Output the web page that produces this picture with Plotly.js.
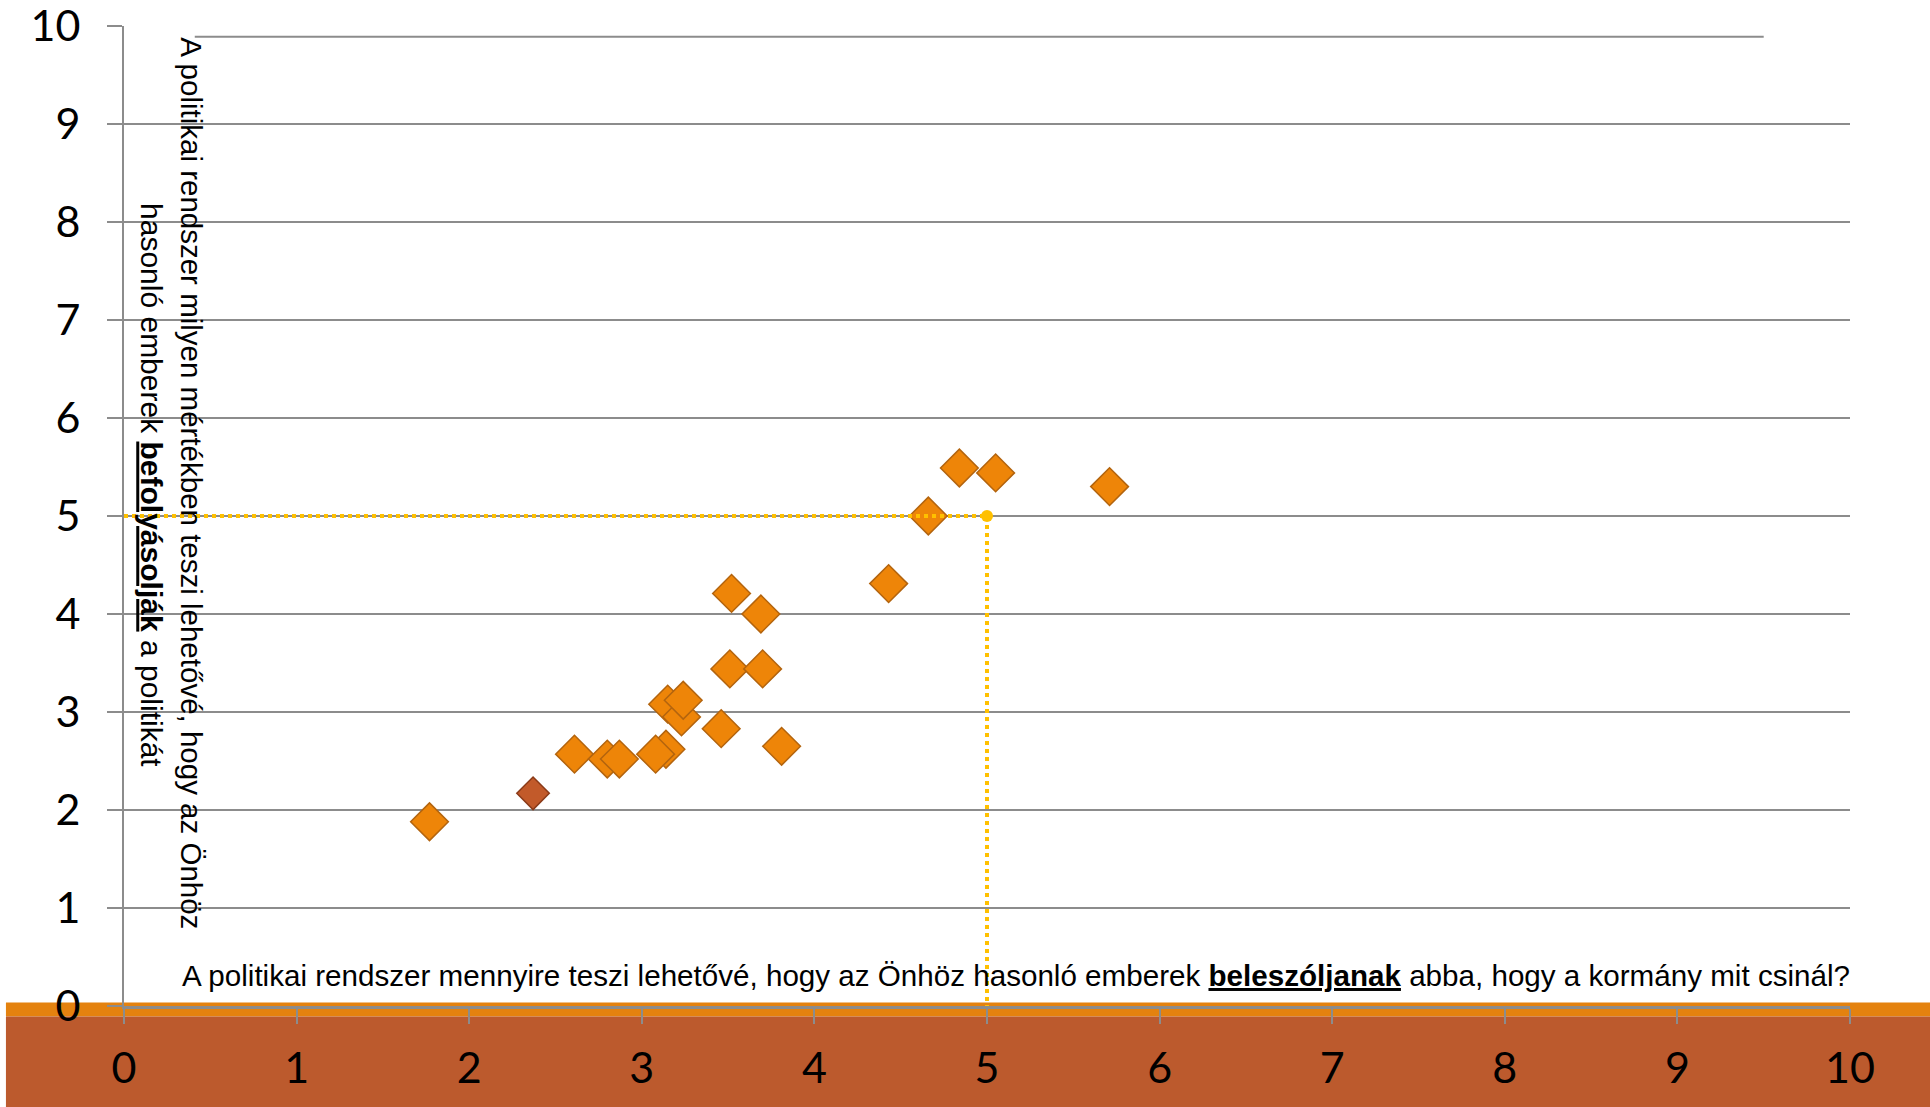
<!DOCTYPE html>
<html>
<head>
<meta charset="utf-8">
<script src="https://cdn.plot.ly/plotly-3.0.1.min.js"></script>
<style>
html,body{margin:0;padding:0;background:#fff;}
#chart{width:1930px;height:1107px;}
</style>
</head>
<body>
<div id="chart"></div>
<script>
// ---- data ----
const countryX = [1.77, 2.61, 2.80, 2.87, 3.14, 3.08, 3.15, 3.23, 3.24, 3.46, 3.81, 3.51, 3.70, 3.52, 3.69, 4.43, 4.66, 4.84, 5.05, 5.71];
const countryY = [1.88, 2.57, 2.52, 2.52, 2.62, 2.57, 3.08, 2.95, 3.12, 2.83, 2.65, 3.44, 3.44, 4.21, 4.00, 4.31, 5.00, 5.49, 5.44, 5.30];
const highlightX = [2.37];
const highlightY = [2.17];
const refLineX = [0, 5, 5];
const refLineY = [5, 5, 0];
const refPointX = [5];
const refPointY = [5];
const tickVals = [0, 1, 2, 3, 4, 5, 6, 7, 8, 9, 10];
const tickText = ['0', '1', '2', '3', '4', '5', '6', '7', '8', '9', '10'];
const xTitle = 'A politikai rendszer mennyire teszi lehetővé, hogy az Önhöz hasonló emberek <b><u>beleszóljanak</u></b> abba, hogy a kormány mit csinál?';
const yTitleLine1 = 'A politikai rendszer milyen mértékben teszi lehetővé, hogy az Önhöz';
const yTitleLine2 = 'hasonló emberek <b><u>befolyásolják</u></b> a politikát';

const gridGray = '#8c8c8c';
const titleFont = '"Liberation Sans", Arial, sans-serif';

const traces = [
  {
    x: countryX, y: countryY, type: 'scatter', mode: 'markers',
    marker: {symbol: 'diamond', size: 29, color: '#ee8508', line: {color: '#b3640e', width: 1.5}},
    cliponaxis: false, hoverinfo: 'x+y'
  },
  {
    x: highlightX, y: highlightY, type: 'scatter', mode: 'markers',
    marker: {symbol: 'diamond', size: 25, color: '#c25a2a', line: {color: '#8a3a18', width: 1.5}},
    cliponaxis: false, hoverinfo: 'x+y'
  },
  {
    x: refLineX, y: refLineY, type: 'scatter', mode: 'lines',
    line: {color: '#ffc000', width: 4, dash: 'dot'},
    cliponaxis: false, hoverinfo: 'skip'
  },
  {
    x: refPointX, y: refPointY, type: 'scatter', mode: 'markers',
    marker: {symbol: 'circle', size: 12, color: '#ffc000'},
    cliponaxis: false, hoverinfo: 'skip'
  }
];

const layout = {
  width: 1930, height: 1107,
  margin: {l: 124, r: 80, t: 26, b: 101, pad: 0},
  paper_bgcolor: '#ffffff', plot_bgcolor: '#ffffff',
  showlegend: false,
  font: {family: 'Lato, "Open Sans", sans-serif', color: '#000000'},
  xaxis: {
    range: [0, 10], tickvals: tickVals, ticktext: tickText,
    showgrid: false, zeroline: false,
    showline: true, linecolor: gridGray, linewidth: 3,
    ticks: 'outside', ticklen: 15, tickcolor: gridGray, tickwidth: 2,
    tickfont: {family: 'Lato, sans-serif', size: 43, color: '#000'},
    ticklabelstandoff: 7, ticklabeloverflow: 'allow',
    fixedrange: true
  },
  yaxis: {
    range: [0, 10], tickvals: tickVals, ticktext: tickText,
    showgrid: true, gridcolor: gridGray, gridwidth: 2,
    zeroline: false,
    showline: true, linecolor: gridGray, linewidth: 2,
    ticks: 'outside', ticklen: 15, tickcolor: gridGray, tickwidth: 2,
    tickfont: {family: 'Lato, sans-serif', size: 43, color: '#000'},
    ticklabelstandoff: 18, ticklabeloverflow: 'allow',
    fixedrange: true
  },
  shapes: [
    {type: 'rect', xref: 'paper', yref: 'paper', x0: -0.0684, x1: 1.05, y0: -0.0107, y1: 0.0036,
     fillcolor: '#e4820f', line: {width: 0}, layer: 'below'},
    {type: 'rect', xref: 'paper', yref: 'paper', x0: -0.0684, x1: 1.05, y0: -0.11, y1: -0.0107,
     fillcolor: '#bc5a2d', line: {width: 0}, layer: 'below'},
    {type: 'line', xref: 'x', yref: 'y', x0: 0.41, x1: 9.5, y0: 9.89, y1: 9.89,
     line: {color: gridGray, width: 2}, layer: 'below'}
  ],
  annotations: [
    {text: xTitle, xref: 'paper', yref: 'paper', x: 1.001, y: 0.031, xanchor: 'right', yanchor: 'middle',
     showarrow: false, font: {family: titleFont, size: 29.6, color: '#000'}},
    {text: yTitleLine1, xref: 'paper', yref: 'paper', x: 0.039, y: 0.533, xanchor: 'center', yanchor: 'middle',
     textangle: 90, showarrow: false, font: {family: titleFont, size: 29.5, color: '#000'}},
    {text: yTitleLine2, xref: 'paper', yref: 'paper', x: 0.016, y: 0.532, xanchor: 'center', yanchor: 'middle',
     textangle: 90, showarrow: false, font: {family: titleFont, size: 30, color: '#000'}}
  ]
};

Plotly.newPlot('chart', traces, layout, {displayModeBar: false, staticPlot: true});
</script>
</body>
</html>
